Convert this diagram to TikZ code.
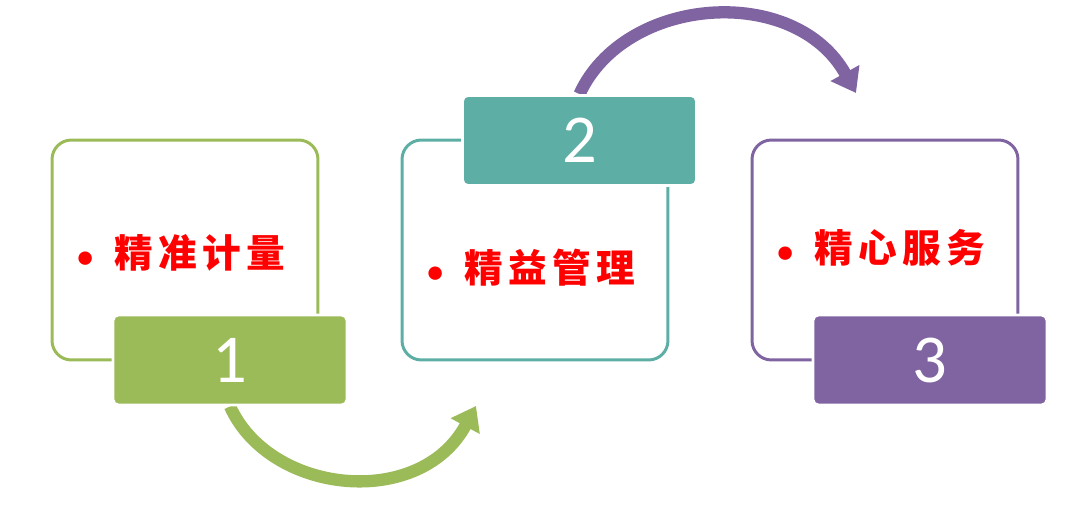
\documentclass[tikz,border=0pt]{standalone}
\usepackage{fontspec}
\setmainfont{Carlito}
\newfontfamily\cjk[LetterSpace=14]{Noto Sans CJK SC}
\usetikzlibrary{arrows.meta,backgrounds}

\definecolor{stepgreen}{HTML}{9BBB59}
\definecolor{stepteal}{HTML}{5DAFA6}
\definecolor{steppurple}{HTML}{8064A2}
\newcommand{\dotmark}{\makebox[21pt][l]{\rmfamily\fontsize{18}{18}\selectfont •}}

\begin{document}
\begin{tikzpicture}[x=0.02cm, y=-0.02cm,
  frame/.style={draw, line width=1.7pt, rounded corners=11pt,
    minimum width=5.32cm, minimum height=4.4cm},
  num/.style={draw=white, line width=1.6pt, rounded corners=3pt,
    minimum width=4.68cm, minimum height=1.8cm, text=white,
    font=\fontsize{39}{39}\selectfont},
  item/.style={anchor=west, inner sep=0pt, text=red,
    font=\cjk\bfseries\fontsize{22}{22}\selectfont},
  flow/.style={line width=7pt, -{Triangle[width=18pt, length=13pt]}}]
\useasboundingbox (0,0) rectangle (1080,507);

% outline boxes
\node[frame, stepgreen] (box1) at (185,250) {};
\node[frame, stepteal] (box2) at (535,250) {};
\node[frame, steppurple] (box3) at (885,250) {};

% items
\node[item] (txt1) at (77,253) {\dotmark{}精准计量};
\node[item] (txt2) at (427,268) {\dotmark{}精益管理};
\node[item] (txt3) at (777,248) {\dotmark{}精心服务};

% number tabs
\node[num, fill=stepgreen] (num1) at (230,360) {1};
\node[num, fill=stepteal] (num2) at (579.5,140.5) {2};
\node[num, fill=steppurple] (num3) at (930,360) {3};

% arrows
\coordinate (gtip) at (476,406);
\coordinate (ptip) at (856,93);
\begin{scope}[on background layer]
\draw[flow, stepgreen] (num1.south) .. controls (270,495) and (420,510) .. (gtip);
\draw[flow, steppurple] (num2.north) .. controls (625,-5) and (795,-17) .. (ptip);
\end{scope}
\end{tikzpicture}
\end{document}
